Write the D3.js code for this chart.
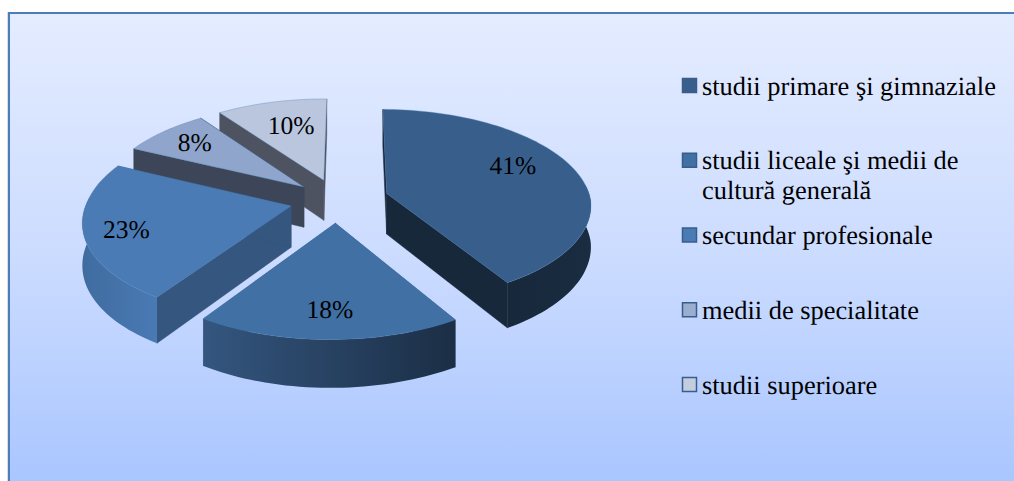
<!DOCTYPE html>
<html><head><meta charset="utf-8">
<script src="https://cdn.jsdelivr.net/npm/d3@7/dist/d3.min.js"></script>
<style>html,body{margin:0;padding:0;background:#fff;overflow:hidden}svg{display:block}text{font-family:"Liberation Serif",serif;fill:#000;text-rendering:geometricPrecision}</style>
</head><body><svg id="c" width="1014" height="481"></svg>
<script>
const categories = ["studii primare şi gimnaziale","studii liceale şi medii de cultură generală","secundar profesionale","medii de specialitate","studii superioare"];
const legendLines = [["studii primare şi gimnaziale"],["studii liceale şi medii de","cultură generală"],["secundar profesionale"],["medii de specialitate"],["studii superioare"]];
const values = [41,18,23,8,10];
const topColors = ["#385f8c","#4170a5","#4a7bb5","#8fa5cb","#b9c6de"];
const sideColors = ["#17283b","#34567f","#34567f","#3c4658","#4d5360"];
const outerFrom = ["#17283b","#34567f","#3f6ca0","#3c4658","#4d5360"];
const outerTo = ["#1a2c40","#1b2e45","#4a7ab4","#3c4658","#4d5360"];
const legendFill = ["#385f8c","#4170a5","#4a7bb5","#9aaed0","#c3cde0"];
const explode = [52,48,47,44,45];
const labelRadius = [.73,.76,.8,.78,.68];
const labelShift = [-10,0,-1,1,2];

const cx=337, cy=200, R=204, k=.47, p=.0006, depth=41, rot=.5*Math.PI/180, shear=.025;
const svg=d3.select("#c");
const defs=svg.append("defs");
const bg=defs.append("linearGradient").attr("id","bg").attr("x1",0).attr("y1",0).attr("x2",0).attr("y2",1);
bg.append("stop").attr("offset",0).attr("stop-color","#e4ecff");
bg.append("stop").attr("offset",.5).attr("stop-color","#ccdcff");
bg.append("stop").attr("offset",1).attr("stop-color","#a8c5ff");
outerFrom.forEach((c,i)=>{
  const g=defs.append("linearGradient").attr("id","o"+i).attr("x1",0).attr("y1",0).attr("x2",1).attr("y2",0);
  g.append("stop").attr("offset",0).attr("stop-color",c);
  g.append("stop").attr("offset",1).attr("stop-color",outerTo[i]);
});
svg.append("rect").attr("x",7).attr("y",12).attr("width",1).attr("height",469).attr("fill","#dcdcdc");
svg.append("rect").attr("x",9).attr("y",13).attr("width",1010).attr("height",480).attr("fill","url(#bg)").attr("stroke","#4a7ebb").attr("stroke-width",2);

const arcs=d3.pie().sort(null).startAngle(rot).endAngle(2*Math.PI+rot).value(d=>d)(values);
const project=(a,i,theta,r,z)=>{
  const m=(a.startAngle+a.endAngle)/2, e=explode[i];
  const u=e*Math.sin(m)+r*Math.sin(theta), v=-e*Math.cos(m)-r*Math.cos(theta), w=1/(1-p*v);
  return [cx+u*w-shear*Math.max(v,0), cy+k*v*w+(z||0)*w];
};
const line=d3.line();
const angles=(a,b)=>{const n=Math.ceil((b-a)/.03);return d3.range(n+1).map(j=>a+(b-a)*j/n);};
const order=[4,3,2,0,1];
const g=svg.append("g");
order.forEach(i=>{
  const a=arcs[i], ts=angles(a.startAngle,a.endAngle);
  const edge=t=>[project(a,i,0,0,0),project(a,i,t,R,0),project(a,i,t,R,depth),project(a,i,0,0,depth)];
  [a.startAngle,a.endAngle].forEach(t=>g.append("path").attr("d",line(edge(t))+"Z").attr("fill",sideColors[i]).attr("stroke",sideColors[i]).attr("stroke-width",.5));
  const front=ts.filter(t=>Math.cos(t)<.12);
  if(front.length>1){
    const top=front.map(t=>project(a,i,t,R,0)), bot=front.map(t=>project(a,i,t,R,depth)).reverse();
    g.append("path").attr("d",line(top.concat(bot))+"Z").attr("fill",`url(#o${i})`);
  }
  const face=[project(a,i,0,0,0)].concat(ts.map(t=>project(a,i,t,R,0)));
  g.append("path").attr("d",line(face)+"Z").attr("fill",topColors[i]).attr("stroke","#4f7db3").attr("stroke-opacity",.45).attr("stroke-width",.8);
});
const labels=svg.append("g");
arcs.forEach((a,i)=>{
  const m=(a.startAngle+a.endAngle)/2+labelShift[i]*Math.PI/180, q=project(a,i,m,R*labelRadius[i],0);
  labels.append("text").attr("x",q[0]).attr("y",q[1]).attr("dy",".35em").attr("text-anchor","middle").attr("font-size",25.5).text(values[i]+"%");
});
const legY=d3.scalePoint().domain(d3.range(5)).range([85.5,384.5]);
const leg=svg.append("g");
legendLines.forEach((ls,i)=>{
  leg.append("rect").attr("x",682.5).attr("y",legY(i)-7).attr("width",14).attr("height",14).attr("fill",legendFill[i]).attr("stroke","#385d8a").attr("stroke-width",1.5);
  ls.forEach((s,j)=>leg.append("text").attr("x",702).attr("y",legY(i)+9+j*30).attr("font-size",26.4).text(s));
});
</script></body></html>
